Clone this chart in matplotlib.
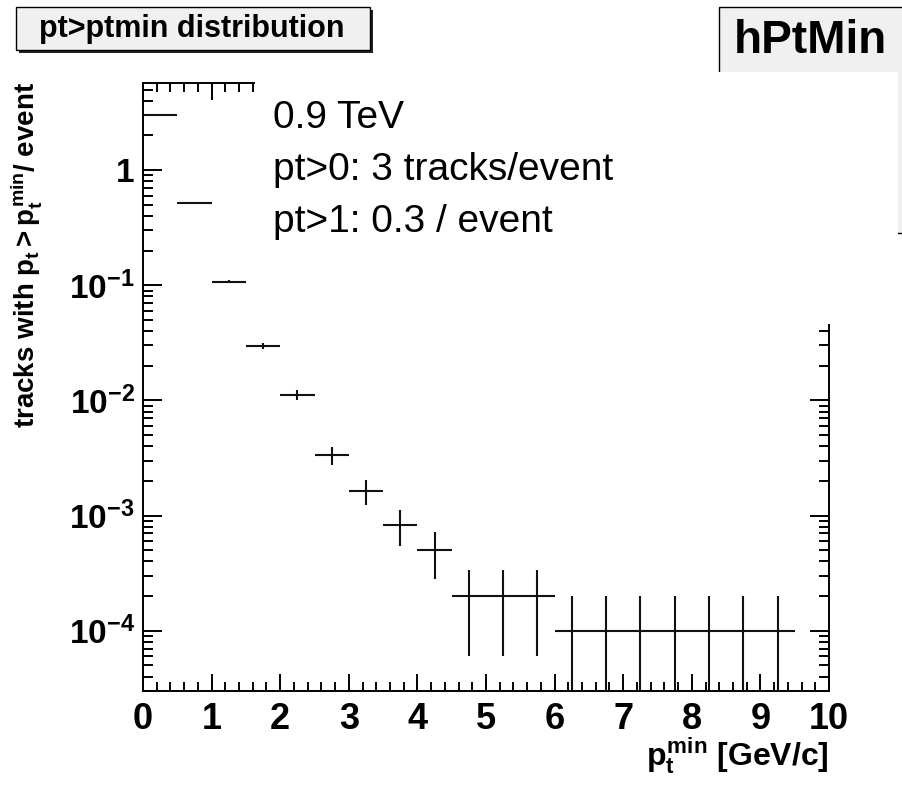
import matplotlib
matplotlib.use('Agg')
import matplotlib.pyplot as plt
from matplotlib.patches import Rectangle
from matplotlib.ticker import MultipleLocator, LogLocator, NullFormatter

# Canvas size in pixels (dpi 100)
W, H = 903, 785

# Histogram hPtMin: bins of 0.5 GeV/c, last bin (9.5-10) empty
pt_centers = [0.25, 0.75, 1.25, 1.75, 2.25, 2.75, 3.25, 3.75, 4.25, 4.75,
              5.25, 5.75, 6.25, 6.75, 7.25, 7.75, 8.25, 8.75, 9.25]
tracks_per_event = [3.0, 0.52, 0.107, 0.0297, 0.0112, 0.00335, 0.00163, 0.00083,
                    0.0005, 0.0002, 0.0002, 0.0002, 0.0001, 0.0001, 0.0001,
                    0.0001, 0.0001, 0.0001, 0.0001]
tracks_err = [0.017, 0.0072, 0.0033, 0.0017, 0.00106, 0.0006, 0.0004, 0.00029,
              0.00022, 0.00014, 0.00014, 0.00014, 0.0001, 0.0001, 0.0001,
              0.0001, 0.0001, 0.0001, 0.0001]
half_bin = 0.25

y_ticks = [1e-4, 1e-3, 1e-2, 1e-1, 1]
y_tick_labels = [r'$10^{-4}$', r'$10^{-3}$', r'$10^{-2}$', r'$10^{-1}$', '1']

notes = ['0.9 TeV', 'pt>0: 3 tracks/event', 'pt>1: 0.3 / event']

plt.rcParams['font.family'] = ['Liberation Sans', 'DejaVu Sans']
plt.rcParams['font.weight'] = 'bold'
plt.rcParams['mathtext.fontset'] = 'custom'
for key in ('rm', 'it', 'bf', 'sf'):
    plt.rcParams['mathtext.' + key] = 'Liberation Sans:bold'


def fx(x):
    return x / W


def fy(y):
    return 1 - y / H


def box(x0, y0, x1, y1, **kw):
    # rectangle given by pixel corners (top-left origin)
    return Rectangle((fx(x0), fy(y1)), (x1 - x0) / W, (y1 - y0) / H,
                     transform=fig.transFigure, **kw)


fig = plt.figure(figsize=(W / 100, H / 100), dpi=100)
ax = fig.add_axes([fx(143), fy(691), (829 - 143) / W, (691 - 83) / H])

ax.errorbar(pt_centers, tracks_per_event, xerr=half_bin, yerr=tracks_err,
            fmt='none', ecolor='#111111', elinewidth=1.5, capsize=0)

ax.set_yscale('log')
ax.set_xlim(0, 10)
ax.set_ylim(3.0e-5, 5.7)

ax.xaxis.set_major_locator(MultipleLocator(1))
ax.xaxis.set_minor_locator(MultipleLocator(0.2))
ax.set_yticks(y_ticks, labels=y_tick_labels)
ax.yaxis.set_minor_locator(LogLocator(base=10, subs=range(2, 10)))
ax.yaxis.set_minor_formatter(NullFormatter())

ax.tick_params(which='both', direction='in', top=True, right=True, width=1.4)
ax.tick_params(axis='x', which='major', length=12, labelsize=26, pad=8)
ax.tick_params(axis='x', which='minor', length=6.5)
ax.tick_params(axis='y', which='major', length=14, labelsize=24, pad=6)
ax.tick_params(axis='y', which='minor', length=7)
for sp in ax.spines.values():
    sp.set_linewidth(1.4)

# axis titles, ROOT style (aligned to the axis ends)
fig.text(fx(35), fy(82), r'tracks with $p_{t}>p_{t}^{min}$/ event',
         rotation=90, rotation_mode='anchor', ha='right', va='baseline',
         fontsize=20, weight='bold')
fig.text(fx(829), fy(766), r'$p_{t}^{min}$ [GeV/c]', ha='right',
         va='baseline', fontsize=23, weight='bold')

# title pave with shadow
fig.add_artist(box(19, 10, 373, 53, facecolor='#222222', edgecolor='none', zorder=2))
fig.add_artist(box(16, 7, 370, 50, facecolor='#f0f0f0', edgecolor='black',
                   linewidth=1, zorder=2))
fig.text(fx(192), fy(29), 'pt>ptmin distribution', ha='center', va='center',
         fontsize=22, weight='bold', zorder=5)

# stats box, mostly hidden by the white note box
fig.add_artist(box(719, 7, 910, 233, facecolor='#f0f0f0', edgecolor='black',
                   linewidth=1, zorder=2))
fig.text(fx(810), fy(41), 'hPtMin', ha='center', va='center', fontsize=33,
         weight='bold', zorder=5)

# white note box covering the top right of the frame
fig.add_artist(box(255, 72, 898, 324, facecolor='white', edgecolor='none', zorder=3))
for txt, yb in zip(notes, [128, 180, 232]):
    fig.text(fx(273), fy(yb), txt, ha='left', va='baseline', fontsize=28,
             weight='normal', zorder=5)

fig.savefig('out.png', dpi=100)
